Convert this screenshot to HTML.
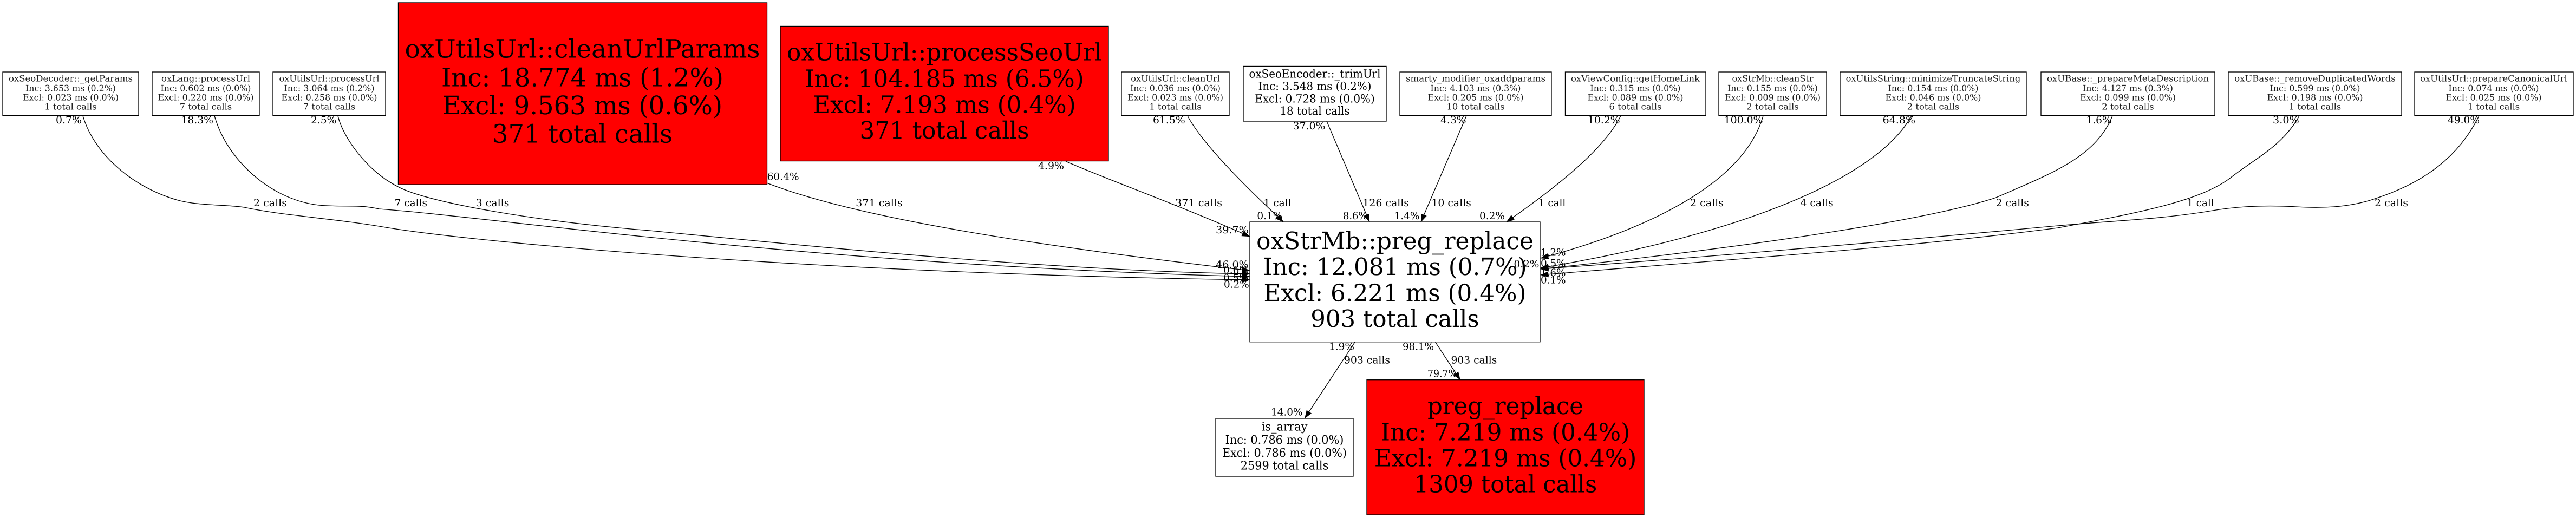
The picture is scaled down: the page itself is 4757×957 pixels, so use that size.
<!DOCTYPE html>
<html><head><meta charset="utf-8"><title>Call graph</title>
<style>
html,body{margin:0;padding:0;background:#fff;width:4757px;height:957px;overflow:hidden}
svg{display:block}
text{font-family:"DejaVu Serif","Liberation Serif",serif;fill:#000;text-rendering:geometricPrecision}
.n text{text-anchor:middle}
.s text{font-size:16px;fill:#1c1c1c}
.m text{font-size:21px}
.a text{font-size:22px}
.b text{font-size:44px}
.c text{font-size:47px}
.l{font-size:18.5px}
rect{stroke:#000;stroke-width:1.33}
path.e{fill:none;stroke:#000;stroke-width:1.33;marker-end:url(#ah)}
</style></head><body>
<svg xmlns="http://www.w3.org/2000/svg" width="4757" height="957" viewBox="0 0 4757 957">
<defs><marker id="ah" markerUnits="userSpaceOnUse" markerWidth="15" markerHeight="12" refX="14.5" refY="6" orient="auto"><path d="M0,0.5 L15,6 L0,11.5 z" fill="#000"/></marker></defs>
<rect x="0" y="0" width="4757" height="957" style="fill:#fff;stroke:none"/>

<g class="n s">
<rect x="5" y="133" width="251" height="80.5" fill="#fff"/>
<text x="130.5" y="150.7" textLength="229" lengthAdjust="spacingAndGlyphs">oxSeoDecoder::_getParams</text>
<text x="130.5" y="168.3" textLength="167" lengthAdjust="spacingAndGlyphs">Inc: 3.653 ms (0.2%)</text>
<text x="130.5" y="185.7" textLength="177" lengthAdjust="spacingAndGlyphs">Excl: 0.023 ms (0.0%)</text>
<text x="130.5" y="202.7" textLength="96.4" lengthAdjust="spacingAndGlyphs">1 total calls</text>

<rect x="281" y="133" width="198" height="80.5" fill="#fff"/>
<text x="380" y="150.7" textLength="164" lengthAdjust="spacingAndGlyphs">oxLang::processUrl</text>
<text x="380" y="168.3" textLength="167" lengthAdjust="spacingAndGlyphs">Inc: 0.602 ms (0.0%)</text>
<text x="380" y="185.7" textLength="177" lengthAdjust="spacingAndGlyphs">Excl: 0.220 ms (0.0%)</text>
<text x="380" y="202.7" textLength="96.4" lengthAdjust="spacingAndGlyphs">7 total calls</text>

<rect x="504" y="133" width="208" height="80.5" fill="#fff"/>
<text x="608" y="150.7" textLength="185" lengthAdjust="spacingAndGlyphs">oxUtilsUrl::processUrl</text>
<text x="608" y="168.3" textLength="167" lengthAdjust="spacingAndGlyphs">Inc: 3.064 ms (0.2%)</text>
<text x="608" y="185.7" textLength="177" lengthAdjust="spacingAndGlyphs">Excl: 0.258 ms (0.0%)</text>
<text x="608" y="202.7" textLength="96.4" lengthAdjust="spacingAndGlyphs">7 total calls</text>

<rect x="2071" y="133" width="199" height="80.5" fill="#fff"/>
<text x="2170.5" y="150.7" textLength="164.5" lengthAdjust="spacingAndGlyphs">oxUtilsUrl::cleanUrl</text>
<text x="2170.5" y="168.3" textLength="167" lengthAdjust="spacingAndGlyphs">Inc: 0.036 ms (0.0%)</text>
<text x="2170.5" y="185.7" textLength="177" lengthAdjust="spacingAndGlyphs">Excl: 0.023 ms (0.0%)</text>
<text x="2170.5" y="202.7" textLength="96.4" lengthAdjust="spacingAndGlyphs">1 total calls</text>

<rect x="2585" y="133" width="280" height="80.5" fill="#fff"/>
<text x="2725" y="150.7" textLength="258" lengthAdjust="spacingAndGlyphs">smarty_modifier_oxaddparams</text>
<text x="2725" y="168.3" textLength="167" lengthAdjust="spacingAndGlyphs">Inc: 4.103 ms (0.3%)</text>
<text x="2725" y="185.7" textLength="177" lengthAdjust="spacingAndGlyphs">Excl: 0.205 ms (0.0%)</text>
<text x="2725" y="202.7" textLength="107" lengthAdjust="spacingAndGlyphs">10 total calls</text>

<rect x="2890.5" y="133" width="259.5" height="80.5" fill="#fff"/>
<text x="3020" y="150.7" textLength="238" lengthAdjust="spacingAndGlyphs">oxViewConfig::getHomeLink</text>
<text x="3020" y="168.3" textLength="167" lengthAdjust="spacingAndGlyphs">Inc: 0.315 ms (0.0%)</text>
<text x="3020" y="185.7" textLength="177" lengthAdjust="spacingAndGlyphs">Excl: 0.089 ms (0.0%)</text>
<text x="3020" y="202.7" textLength="97" lengthAdjust="spacingAndGlyphs">6 total calls</text>

<rect x="3174" y="133" width="199" height="80.5" fill="#fff"/>
<text x="3273.5" y="150.7" textLength="150" lengthAdjust="spacingAndGlyphs">oxStrMb::cleanStr</text>
<text x="3273.5" y="168.3" textLength="167" lengthAdjust="spacingAndGlyphs">Inc: 0.155 ms (0.0%)</text>
<text x="3273.5" y="185.7" textLength="177" lengthAdjust="spacingAndGlyphs">Excl: 0.009 ms (0.0%)</text>
<text x="3273.5" y="202.7" textLength="96.4" lengthAdjust="spacingAndGlyphs">2 total calls</text>

<rect x="3398" y="133" width="344" height="80.5" fill="#fff"/>
<text x="3570" y="150.7" textLength="322.7" lengthAdjust="spacingAndGlyphs">oxUtilsString::minimizeTruncateString</text>
<text x="3570" y="168.3" textLength="167" lengthAdjust="spacingAndGlyphs">Inc: 0.154 ms (0.0%)</text>
<text x="3570" y="185.7" textLength="177" lengthAdjust="spacingAndGlyphs">Excl: 0.046 ms (0.0%)</text>
<text x="3570" y="202.7" textLength="96.4" lengthAdjust="spacingAndGlyphs">2 total calls</text>

<rect x="3769" y="133" width="321" height="80.5" fill="#fff"/>
<text x="3929.5" y="150.7" textLength="299" lengthAdjust="spacingAndGlyphs">oxUBase::_prepareMetaDescription</text>
<text x="3929.5" y="168.3" textLength="167" lengthAdjust="spacingAndGlyphs">Inc: 4.127 ms (0.3%)</text>
<text x="3929.5" y="185.7" textLength="177" lengthAdjust="spacingAndGlyphs">Excl: 0.099 ms (0.0%)</text>
<text x="3929.5" y="202.7" textLength="96.4" lengthAdjust="spacingAndGlyphs">2 total calls</text>

<rect x="4115" y="133" width="320" height="80.5" fill="#fff"/>
<text x="4275" y="150.7" textLength="297.4" lengthAdjust="spacingAndGlyphs">oxUBase::_removeDuplicatedWords</text>
<text x="4275" y="168.3" textLength="167" lengthAdjust="spacingAndGlyphs">Inc: 0.599 ms (0.0%)</text>
<text x="4275" y="185.7" textLength="177" lengthAdjust="spacingAndGlyphs">Excl: 0.198 ms (0.0%)</text>
<text x="4275" y="202.7" textLength="96.4" lengthAdjust="spacingAndGlyphs">1 total calls</text>

<rect x="4459" y="133" width="293" height="80.5" fill="#fff"/>
<text x="4605" y="150.7" textLength="271.6" lengthAdjust="spacingAndGlyphs">oxUtilsUrl::prepareCanonicalUrl</text>
<text x="4605" y="168.3" textLength="167" lengthAdjust="spacingAndGlyphs">Inc: 0.074 ms (0.0%)</text>
<text x="4605" y="185.7" textLength="177" lengthAdjust="spacingAndGlyphs">Excl: 0.025 ms (0.0%)</text>
<text x="4605" y="202.7" textLength="96.4" lengthAdjust="spacingAndGlyphs">1 total calls</text>
</g>

<g class="n m">
<rect x="2296" y="122.5" width="264" height="101.5" fill="#fff"/>
<text x="2428" y="143.3" textLength="243" lengthAdjust="spacingAndGlyphs">oxSeoEncoder::_trimUrl</text>
<text x="2428" y="166.7" textLength="209" lengthAdjust="spacingAndGlyphs">Inc: 3.548 ms (0.2%)</text>
<text x="2428" y="189.3" textLength="221.5" lengthAdjust="spacingAndGlyphs">Excl: 0.728 ms (0.0%)</text>
<text x="2428" y="212" textLength="129" lengthAdjust="spacingAndGlyphs">18 total calls</text>
</g>

<g class="n c">
<rect x="735.5" y="5" width="681" height="336" fill="#f00"/>
<text x="1075.5" y="106.7" textLength="656" lengthAdjust="spacingAndGlyphs">oxUtilsUrl::cleanUrlParams</text>
<text x="1075.5" y="159.3" textLength="521" lengthAdjust="spacingAndGlyphs">Inc: 18.774 ms (1.2%)</text>
<text x="1075.5" y="211" textLength="517" lengthAdjust="spacingAndGlyphs">Excl: 9.563 ms (0.6%)</text>
<text x="1075.5" y="263.3" textLength="333" lengthAdjust="spacingAndGlyphs">371 total calls</text>
</g>

<g class="n b">
<rect x="1441" y="48.5" width="606" height="249" fill="#f00"/>
<text x="1744" y="111.7" textLength="582" lengthAdjust="spacingAndGlyphs">oxUtilsUrl::processSeoUrl</text>
<text x="1744" y="160.7" textLength="515.5" lengthAdjust="spacingAndGlyphs">Inc: 104.185 ms (6.5%)</text>
<text x="1744" y="208.3" textLength="485.5" lengthAdjust="spacingAndGlyphs">Excl: 7.193 ms (0.4%)</text>
<text x="1744" y="256" textLength="313" lengthAdjust="spacingAndGlyphs">371 total calls</text>

<rect x="2308" y="410" width="536" height="221.7" fill="#fff"/>
<text x="2576" y="460" textLength="511.7" lengthAdjust="spacingAndGlyphs">oxStrMb::preg_replace</text>
<text x="2576" y="508" textLength="487.3" lengthAdjust="spacingAndGlyphs">Inc: 12.081 ms (0.7%)</text>
<text x="2576" y="556.7" textLength="485" lengthAdjust="spacingAndGlyphs">Excl: 6.221 ms (0.4%)</text>
<text x="2576" y="604" textLength="311.4" lengthAdjust="spacingAndGlyphs">903 total calls</text>

<rect x="2524" y="701.7" width="512" height="249.3" fill="#f00"/>
<text x="2780" y="765" textLength="288" lengthAdjust="spacingAndGlyphs">preg_replace</text>
<text x="2780" y="813.3" textLength="460.4" lengthAdjust="spacingAndGlyphs">Inc: 7.219 ms (0.4%)</text>
<text x="2780" y="861.7" textLength="484.5" lengthAdjust="spacingAndGlyphs">Excl: 7.219 ms (0.4%)</text>
<text x="2780" y="909.3" textLength="338.6" lengthAdjust="spacingAndGlyphs">1309 total calls</text>
</g>

<g class="n a">
<rect x="2245" y="773" width="254" height="107" fill="#fff"/>
<text x="2372" y="795.7" textLength="85" lengthAdjust="spacingAndGlyphs">is_array</text>
<text x="2372" y="820" textLength="218.7" lengthAdjust="spacingAndGlyphs">Inc: 0.786 ms (0.0%)</text>
<text x="2372" y="844" textLength="230" lengthAdjust="spacingAndGlyphs">Excl: 0.786 ms (0.0%)</text>
<text x="2372" y="867.7" textLength="162.5" lengthAdjust="spacingAndGlyphs">2599 total calls</text>
</g>

<!-- edges -->
<path class="e" d="M153,214 C172,280 240,345 329,370 C365,380 420,378 451,383 C520,398 620,404 712,420 C880,448 1500,505 2308,517"/>
<path class="e" d="M396,214 C420,300 510,378 604.6,380 C640,382 665,378 700,386 C900,400 1500,490 2308,511"/>
<path class="e" d="M624,214 C632,250 675,315 735,345 C790,375 1000,410 1200,426 C1550,460 1950,500 2308,506"/>
<path class="e" d="M1416,338 C1600,410 1980,462 2308,500"/>
<path class="e" d="M1968,298 C2040,330 2180,380 2308,437"/>
<path class="e" d="M2193,214 C2220,265 2300,345 2370,410"/>
<path class="e" d="M2450,224 L2529,410"/>
<path class="e" d="M2708,214 L2624,410"/>
<path class="e" d="M2993,214 C2965,270 2890,335 2782,410"/>
<path class="e" d="M3256,214 C3220,340 3040,425 2845,477"/>
<path class="e" d="M3530,214 C3460,340 3180,440 2845,495"/>
<path class="e" d="M3901,214 C3870,290 3790,320 3686,365 C3550,410 3200,460 2845,497"/>
<path class="e" d="M4246,214 C4215,270 4165,292 4117,330 C4060,372 3950,393 3800,421 C3500,460 3200,478 2845,508"/>
<path class="e" d="M4578,214 C4550,270 4500,330 4386,367 C4340,383 4290,385 4240,382 C4170,378 4120,383 4080,390 C3990,405 3900,408 3800,417 C3500,445 3150,475 2845,497"/>
<path class="e" d="M2502,632 L2409.5,772.7"/>
<path class="e" d="M2650.6,632 L2696.5,701.7"/>

<!-- tail labels -->
<g class="l">
<text class="l" x="103" y="228" textLength="48" lengthAdjust="spacingAndGlyphs">0.7%</text>
<text class="l" x="334.4" y="228" textLength="59.6" lengthAdjust="spacingAndGlyphs">18.3%</text>
<text class="l" x="574" y="228" textLength="47.4" lengthAdjust="spacingAndGlyphs">2.5%</text>
<text class="l" x="1416.6" y="332.7" textLength="59" lengthAdjust="spacingAndGlyphs">60.4%</text>
<text class="l" x="1917" y="312.7" textLength="48" lengthAdjust="spacingAndGlyphs">4.9%</text>
<text class="l" x="2129" y="228" textLength="59.7" lengthAdjust="spacingAndGlyphs">61.5%</text>
<text class="l" x="2387.7" y="239" textLength="59.7" lengthAdjust="spacingAndGlyphs">37.0%</text>
<text class="l" x="2660" y="228" textLength="47.6" lengthAdjust="spacingAndGlyphs">4.3%</text>
<text class="l" x="2932" y="228" textLength="59.6" lengthAdjust="spacingAndGlyphs">10.2%</text>
<text class="l" x="3183.7" y="228" textLength="71.9" lengthAdjust="spacingAndGlyphs">100.0%</text>
<text class="l" x="3476.7" y="228" textLength="60.3" lengthAdjust="spacingAndGlyphs">64.8%</text>
<text class="l" x="3852.4" y="228" textLength="47.2" lengthAdjust="spacingAndGlyphs">1.6%</text>
<text class="l" x="4197" y="228" textLength="48.8" lengthAdjust="spacingAndGlyphs">3.0%</text>
<text class="l" x="4520" y="228" textLength="59" lengthAdjust="spacingAndGlyphs">49.0%</text>

<!-- head labels -->
<text class="l" x="2245.2" y="431" textLength="60.6" lengthAdjust="spacingAndGlyphs">39.7%</text>
<text class="l" x="2245.2" y="495" textLength="60.6" lengthAdjust="spacingAndGlyphs">46.0%</text>
<text class="l" x="2259" y="505" textLength="47" lengthAdjust="spacingAndGlyphs">0.6%</text>
<text class="l" x="2259" y="520" textLength="47" lengthAdjust="spacingAndGlyphs">0.5%</text>
<text class="l" x="2260" y="531.7" textLength="46.7" lengthAdjust="spacingAndGlyphs">0.2%</text>
<text class="l" x="2321.4" y="405" textLength="46.9" lengthAdjust="spacingAndGlyphs">0.1%</text>
<text class="l" x="2480" y="405" textLength="45.4" lengthAdjust="spacingAndGlyphs">8.6%</text>
<text class="l" x="2574.5" y="405" textLength="46.9" lengthAdjust="spacingAndGlyphs">1.4%</text>
<text class="l" x="2732" y="405" textLength="47" lengthAdjust="spacingAndGlyphs">0.2%</text>
<text class="l" x="2845" y="472.7" textLength="46.5" lengthAdjust="spacingAndGlyphs">1.2%</text>
<text class="l" x="2795.5" y="494" textLength="46.9" lengthAdjust="spacingAndGlyphs">0.2%</text>
<text class="l" x="2845" y="492.7" textLength="46.5" lengthAdjust="spacingAndGlyphs">0.5%</text>
<text class="l" x="2845" y="510" textLength="46.5" lengthAdjust="spacingAndGlyphs">1.6%</text>
<text class="l" x="2845" y="523.3" textLength="46.5" lengthAdjust="spacingAndGlyphs">0.1%</text>
<text class="l" x="2454" y="646.7" textLength="47" lengthAdjust="spacingAndGlyphs">1.9%</text>
<text class="l" x="2590" y="646.7" textLength="58" lengthAdjust="spacingAndGlyphs">98.1%</text>
<text class="l" x="2636" y="696.7" textLength="55" lengthAdjust="spacingAndGlyphs">79.7%</text>
<text class="l" x="2347" y="767.7" textLength="58.5" lengthAdjust="spacingAndGlyphs">14.0%</text>

<!-- call labels -->
<text class="l" x="468" y="381" textLength="62" lengthAdjust="spacingAndGlyphs">2 calls</text>
<text class="l" x="728.6" y="381" textLength="60.4" lengthAdjust="spacingAndGlyphs">7 calls</text>
<text class="l" x="878.5" y="381" textLength="62" lengthAdjust="spacingAndGlyphs">3 calls</text>
<text class="l" x="1580.3" y="381" textLength="86.5" lengthAdjust="spacingAndGlyphs">371 calls</text>
<text class="l" x="2170" y="381" textLength="87" lengthAdjust="spacingAndGlyphs">371 calls</text>
<text class="l" x="2333.4" y="381" textLength="51.3" lengthAdjust="spacingAndGlyphs">1 call</text>
<text class="l" x="2516.3" y="381" textLength="85.7" lengthAdjust="spacingAndGlyphs">126 calls</text>
<text class="l" x="2643.4" y="381" textLength="73.4" lengthAdjust="spacingAndGlyphs">10 calls</text>
<text class="l" x="2840.8" y="381" textLength="50.5" lengthAdjust="spacingAndGlyphs">1 call</text>
<text class="l" x="3121" y="381" textLength="62" lengthAdjust="spacingAndGlyphs">2 calls</text>
<text class="l" x="3324.5" y="381" textLength="61.2" lengthAdjust="spacingAndGlyphs">4 calls</text>
<text class="l" x="3685.6" y="381" textLength="61.3" lengthAdjust="spacingAndGlyphs">2 calls</text>
<text class="l" x="4038.4" y="381" textLength="50.2" lengthAdjust="spacingAndGlyphs">1 call</text>
<text class="l" x="4385" y="381" textLength="62" lengthAdjust="spacingAndGlyphs">2 calls</text>
<text class="l" x="2482" y="671.7" textLength="85" lengthAdjust="spacingAndGlyphs">903 calls</text>
<text class="l" x="2679.5" y="671.7" textLength="84.8" lengthAdjust="spacingAndGlyphs">903 calls</text>
</g>
</svg>
</body></html>
